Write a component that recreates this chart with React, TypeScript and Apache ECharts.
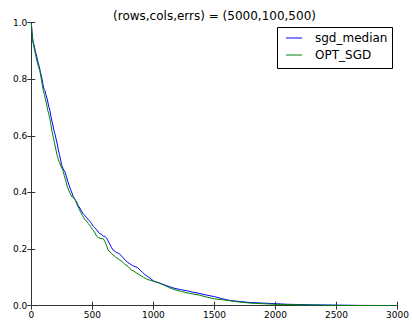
import React, { useEffect, useRef } from "react";
import * as echarts from "echarts";

const TITLE = "(rows,cols,errs) = (5000,100,500)";
const SERIES_NAMES = ["sgd_median", "OPT_SGD"];
const SERIES_COLORS = ["#0000ff", "#008000"];
const X_TICKS = [0, 500, 1000, 1500, 2000, 2500, 3000];
const Y_TICKS = [0.0, 0.2, 0.4, 0.6, 0.8, 1.0];

const sgdMedian: [number, number][] = [
  [0, 1.0], [5, 0.97], [10, 0.95], [15, 0.93], [20, 0.925], [28, 0.91], [35, 0.895], [42, 0.885],
  [50, 0.87], [58, 0.855], [65, 0.845], [72, 0.83], [80, 0.815], [88, 0.8], [96, 0.78], [104, 0.765],
  [112, 0.76], [120, 0.745], [130, 0.73], [137, 0.716], [145, 0.7], [152, 0.69], [161, 0.668],
  [170, 0.65], [178, 0.635], [186, 0.618], [195, 0.605], [205, 0.585], [213, 0.57], [221, 0.55],
  [230, 0.535], [240, 0.515], [250, 0.495], [260, 0.485], [268, 0.478], [278, 0.47], [288, 0.455],
  [298, 0.44], [310, 0.425], [322, 0.41], [333, 0.398], [344, 0.385], [358, 0.375], [372, 0.365],
  [385, 0.352], [398, 0.345], [410, 0.335], [425, 0.325], [440, 0.318], [455, 0.31], [470, 0.302],
  [481, 0.298], [494, 0.29], [508, 0.28], [520, 0.275], [535, 0.268], [548, 0.26], [560, 0.255],
  [575, 0.252], [590, 0.245], [603, 0.245], [617, 0.238], [630, 0.228], [645, 0.215], [658, 0.205],
  [669, 0.197], [685, 0.192], [700, 0.187], [715, 0.185], [726, 0.182], [740, 0.175], [755, 0.168],
  [770, 0.16], [790, 0.153], [810, 0.147], [830, 0.142], [849, 0.138], [870, 0.135], [890, 0.126],
  [910, 0.118], [930, 0.11], [950, 0.104], [970, 0.098], [990, 0.091], [1013, 0.085], [1040, 0.082],
  [1070, 0.077], [1100, 0.072], [1140, 0.066], [1177, 0.061], [1220, 0.057], [1272, 0.053],
  [1320, 0.048], [1381, 0.043], [1440, 0.037], [1500, 0.032], [1560, 0.025], [1620, 0.019],
  [1700, 0.015], [1800, 0.011], [1900, 0.009], [2000, 0.007], [2100, 0.005], [2200, 0.004],
  [2300, 0.003], [2500, 0.002], [2700, 0.001], [3000, 0.0005],
];

const optSgd: [number, number][] = [
  [0, 1.0], [5, 0.965], [10, 0.94], [18, 0.92], [28, 0.9], [38, 0.88], [48, 0.86], [58, 0.845],
  [69, 0.83], [78, 0.81], [88, 0.785], [98, 0.76], [108, 0.745], [115, 0.73], [123, 0.716],
  [135, 0.69], [144, 0.675], [151, 0.663], [160, 0.64], [170, 0.615], [180, 0.595], [190, 0.575],
  [202, 0.55], [212, 0.53], [222, 0.515], [232, 0.505], [245, 0.49], [257, 0.48], [270, 0.46],
  [283, 0.44], [295, 0.42], [310, 0.405], [320, 0.395], [331, 0.385], [345, 0.382], [358, 0.375],
  [372, 0.36], [388, 0.345], [405, 0.33], [420, 0.318], [440, 0.303], [455, 0.298], [467, 0.29],
  [485, 0.28], [500, 0.27], [518, 0.26], [535, 0.245], [550, 0.24], [563, 0.238], [590, 0.236],
  [605, 0.225], [618, 0.21], [628, 0.197], [645, 0.19], [660, 0.183], [671, 0.179], [690, 0.172],
  [710, 0.166], [726, 0.161], [745, 0.155], [765, 0.147], [794, 0.138], [810, 0.13], [822, 0.126],
  [840, 0.122], [860, 0.116], [890, 0.108], [920, 0.1], [950, 0.093], [980, 0.089], [1013, 0.085],
  [1050, 0.079], [1090, 0.072], [1130, 0.064], [1177, 0.056], [1230, 0.05], [1290, 0.044],
  [1381, 0.037], [1440, 0.03], [1500, 0.024], [1586, 0.02], [1700, 0.013], [1800, 0.009],
  [1900, 0.007], [2000, 0.005], [2200, 0.003], [2500, 0.001], [3000, 0.0],
];

const FONT = "DejaVu Sans";
const AXIS_COLOR = "#333";

export default function App() {
  const ref = useRef<HTMLDivElement>(null);
  useEffect(() => {
    if (!ref.current) return;
    const chart = echarts.init(ref.current, null, { renderer: "svg" });
    const gridLeft = 31.3;
    const gridRight = 14.3;
    const gridTop = 22.5;
    const gridBottom = 14.3;
    const tickAxisCommon = {
      axisLine: { show: true, lineStyle: { color: AXIS_COLOR, width: 1 } },
      axisTick: { show: true, inside: true, length: 4, lineStyle: { color: AXIS_COLOR, width: 1 } },
      splitLine: { show: false },
    };
    const legendX = 277;
    const legendY = 27;
    chart.setOption({
      animation: false,
      backgroundColor: "#ffffff",
      grid: { left: gridLeft, right: gridRight, top: gridTop, bottom: gridBottom, containLabel: false },
      xAxis: [
        {
          type: "value",
          min: X_TICKS[0],
          max: X_TICKS[X_TICKS.length - 1],
          interval: 500,
          ...tickAxisCommon,
          axisLabel: {
            show: true,
            color: "#000",
            fontFamily: FONT,
            fontSize: 9,
            margin: 5,
            formatter: (v: number) => String(v),
          },
        },
        {
          type: "value",
          position: "top",
          min: X_TICKS[0],
          max: X_TICKS[X_TICKS.length - 1],
          interval: 500,
          ...tickAxisCommon,
          axisLabel: { show: false },
        },
      ],
      yAxis: [
        {
          type: "value",
          min: Y_TICKS[0],
          max: Y_TICKS[Y_TICKS.length - 1],
          interval: 0.2,
          ...tickAxisCommon,
          axisLabel: {
            show: true,
            color: "#000",
            fontFamily: FONT,
            fontSize: 9,
            margin: 4,
            formatter: (v: number) => v.toFixed(1),
          },
        },
        {
          type: "value",
          position: "right",
          min: Y_TICKS[0],
          max: Y_TICKS[Y_TICKS.length - 1],
          interval: 0.2,
          ...tickAxisCommon,
          axisLabel: { show: false },
        },
      ],
      series: [
        {
          name: SERIES_NAMES[0],
          type: "line",
          data: sgdMedian,
          showSymbol: false,
          symbol: "none",
          lineStyle: { color: SERIES_COLORS[0], width: 1 },
          itemStyle: { color: SERIES_COLORS[0] },
          xAxisIndex: 0,
          yAxisIndex: 0,
        },
        {
          name: SERIES_NAMES[1],
          type: "line",
          data: optSgd,
          showSymbol: false,
          symbol: "none",
          lineStyle: { color: SERIES_COLORS[1], width: 1 },
          itemStyle: { color: SERIES_COLORS[1] },
          xAxisIndex: 0,
          yAxisIndex: 0,
        },
      ],
      graphic: [
        {
          type: "text",
          x: 214.5,
          y: 15.5,
          style: {
            text: TITLE,
            fontFamily: FONT,
            fontSize: 12,
            fill: "#000",
            textAlign: "center",
            textVerticalAlign: "middle",
          },
        },
        {
          type: "rect",
          shape: { x: legendX + 0.5, y: legendY + 0.5, width: 115, height: 41 },
          style: { fill: "#fff", stroke: "#000", lineWidth: 1 },
          z: 10,
        },
        ...SERIES_NAMES.flatMap((name, i) => [
          {
            type: "line",
            shape: { x1: legendX + 9, y1: legendY + 11 + i * 17, x2: legendX + 25, y2: legendY + 11 + i * 17 },
            style: { stroke: SERIES_COLORS[i], lineWidth: 1 },
            z: 11,
          },
          {
            type: "text",
            x: legendX + 38,
            y: legendY + 11 + i * 17,
            style: {
              text: name,
              fontFamily: FONT,
              fontSize: 12,
              fill: "#000",
              textAlign: "left",
              textVerticalAlign: "middle",
            },
            z: 11,
          },
        ]),
      ],
    });
    return () => chart.dispose();
  }, []);
  return (
    <div
      ref={ref}
      style={{ position: "fixed", left: 0, top: 0, width: 412, height: 320, background: "#fff" }}
    />
  );
}
